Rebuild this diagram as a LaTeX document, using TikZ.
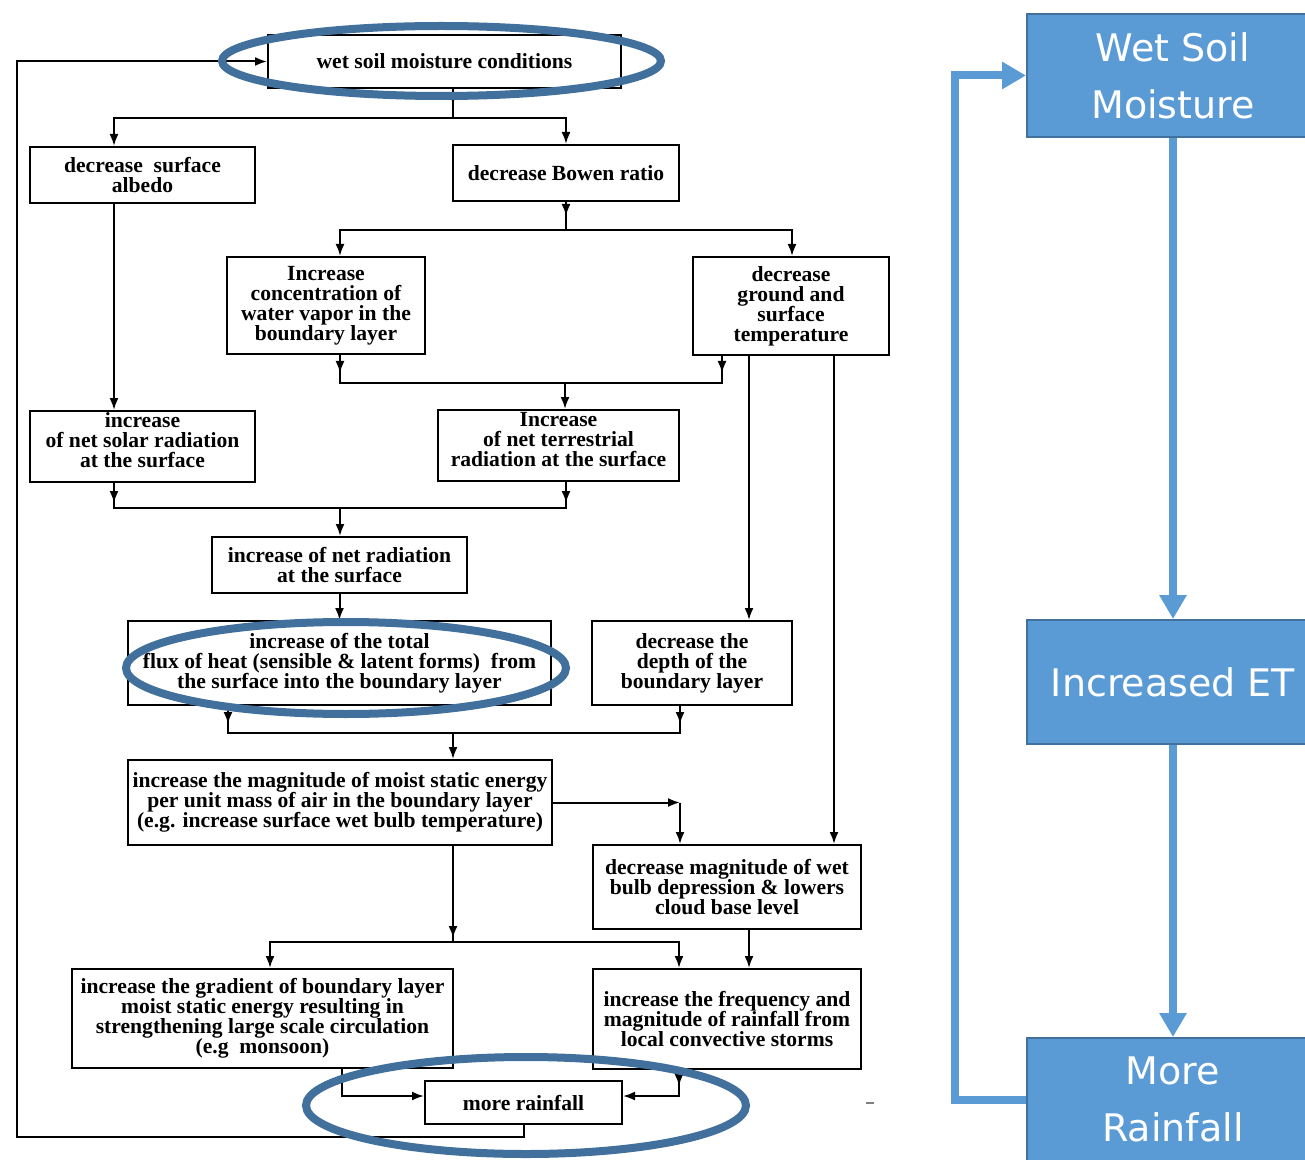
\documentclass[tikz,border=0pt]{standalone}
\usepackage{fontspec}
\setmainfont{Liberation Serif}
\newfontfamily\rfont{DejaVu Sans}
\usetikzlibrary{arrows.meta}
\definecolor{ringc}{RGB}{65,112,156}
\definecolor{pbox}{RGB}{91,155,213}
\definecolor{pedge}{RGB}{65,113,156}
\tikzset{
 sz/.style 2 args={minimum width=#1*0.5pt, minimum height=#2*0.5pt},
 fbox/.style={draw=black, line width=1pt, fill=white, align=center, inner sep=1pt, font=\fontsize{10.8}{10}\selectfont\bfseries},
 ln/.style={line width=1pt},
 arr/.style={line width=1pt,-{Latex[length=6pt,width=4.5pt]}},
 ringst/.style={draw=ringc,line width=4pt},
 bb/.style={fill=pbox,draw=pedge,line width=1pt,text=white,align=center,font=\rfont\fontsize{19}{28.5}\selectfont},
 barr/.style={draw=pbox,line width=4pt,-{Triangle[width=13pt,length=12pt]}}
}
\begin{document}
\begin{tikzpicture}[x=0.5pt,y=-0.5pt]
\useasboundingbox (0,0) rectangle (1305,1160);
\clip (0,0) rectangle (1305,1160);
\fill[white] (0,0) rectangle (1305,1160);

% left flow chart boxes
\node[fbox,sz={353}{53}] (wet) at (444.5,61.5) {wet soil moisture conditions};
\node[fbox,sz={225}{56}] (alb) at (142.5,175) {decrease\ \ surface\\albedo};
\node[fbox,sz={226}{56}] (bow) at (566,173) {decrease Bowen ratio};
\node[fbox,sz={198}{97}] (conc) at (326,305.5) {Increase\\concentration of\\water vapor in the\\boundary layer};
\node[fbox,sz={196}{98}] (gt) at (791,306) {decrease\\ground and\\surface\\temperature};
\node[fbox,sz={225}{71},text depth=6pt] (sol) at (142.5,446.5) {increase\\of net solar radiation\\at the surface};
\node[fbox,sz={241}{71},text depth=6pt] (ter) at (558.5,445.5) {Increase\\of net terrestrial\\radiation at the surface};
\node[fbox,sz={255}{56}] (nr) at (339.5,565) {increase of net radiation\\at the surface};
\node[fbox,sz={423}{84}] (flux) at (339.5,663) {increase of the total\\flux of heat (sensible \& latent forms)\ \ from\\the surface into the boundary layer};
\node[fbox,sz={200}{84}] (dep) at (692,663) {decrease the\\depth of the\\boundary layer};
\node[fbox,sz={424}{85}] (mse) at (340,802.5) {increase the magnitude of moist static energy\\per unit mass of air in the boundary layer\\(e.g. increase surface wet bulb temperature)};
\node[fbox,sz={268}{84}] (wb) at (727,887) {decrease magnitude of wet\\bulb depression \& lowers\\cloud base level};
\node[fbox,sz={381}{99}] (grad) at (262.5,1018.5) {increase the gradient of boundary layer\\moist static energy resulting in\\strengthening large scale circulation\\(e.g\ \ monsoon)};
\node[fbox,sz={268}{100}] (freq) at (727,1019) {increase the frequency and\\magnitude of rainfall from\\local convective storms};
\node[fbox,sz={197}{43}] (rain) at (523.5,1102.5) {more rainfall};

% junctions
\coordinate (j1) at (453,118);
\coordinate (j2) at (566,230);
\coordinate (j3) at (565,383);
\coordinate (j4) at (340,508);
\coordinate (j5) at (453,733);
\coordinate (j6) at (453,942);
\coordinate (k1) at (680,802.5);
\coordinate (L1) at (17,1137);
\coordinate (g1) at ([xshift=-21pt]gt.south);
\coordinate (g2) at ([xshift=21.5pt]gt.south);
\coordinate (c1) at ([xshift=7pt]conc.south);
\coordinate (g0) at ([xshift=-34.5pt]gt.south);
\coordinate (s1) at ([xshift=-14.25pt]sol.south);
\coordinate (t1) at ([xshift=3.75pt]ter.south);
\coordinate (f1) at ([xshift=-55.75pt]flux.south);
\coordinate (d1) at ([xshift=-6pt]dep.south);
\coordinate (q1) at ([xshift=-24pt]freq.south);

% connectors
\draw[ln] (wet.south -| j1) -- (j1);
\draw[arr] (wet.south -| j1) -- ++(0,16);
\draw[arr] (j1) -| ([xshift=-14.25pt]alb.north);
\draw[arr] (j1) -| (bow.north);
\draw[arr] ([xshift=-14.25pt]alb.south) -- ([xshift=-14.25pt]sol.north);
\draw[ln] (bow.south) -- (j2);
\draw[arr] (bow.south) -- ++(0,14);
\draw[arr] (j2) -| ([xshift=7pt]conc.north);
\draw[arr] (j2) -| ([xshift=0.5pt]gt.north);
\draw[ln] (c1) |- (j3);
\draw[ln] (g0) |- (j3);
\draw[arr] (c1) -- ++(0,18);
\draw[arr] (g0) -- ++(0,17);
\draw[arr] (j3) -- (ter.north -| j3);
\draw[arr] (g1) -- (g1 |- dep.north);
\draw[arr] (g2) -- (g2 |- wb.north);
\draw[ln] (s1) |- (j4);
\draw[ln] (t1) |- (j4);
\draw[arr] (s1) -- ++(0,20);
\draw[arr] (t1) -- ++(0,21);
\draw[arr] (j4) -- (nr.north -| j4);
\draw[arr] (nr.south) -- (flux.north);
\draw[ln] (f1) |- (j5);
\draw[ln] (d1) |- (j5);
\draw[arr] (f1) -- ++(0,18);
\draw[arr] (d1) -- ++(0,18);
\draw[arr] (j5) -- (mse.north -| j5);
\draw[arr] (mse.east) -- (k1);
\draw[arr] (k1) -- (k1 |- wb.north);
\draw[ln] (mse.south -| j6) -- (j6);
\draw[arr] (mse.south -| j6) -- ++(0,92);
\draw[arr] (j6) -| ([xshift=3.75pt]grad.north);
\draw[arr] (j6) -| ([xshift=-24pt]freq.north);
\draw[arr] ([xshift=11pt]wb.south) -- ([xshift=11pt]freq.north);
\draw[arr] ([xshift=39.75pt]grad.south) |- ([yshift=3.25pt]rain.west);
\draw[arr] (q1) |- ([yshift=3.25pt]rain.east);
\draw[arr] (q1) -- ++(0,16);
\draw[arr] (rain.south) |- (L1) |- (wet.west);
\draw[line width=1pt,gray] (866,1103) -- (874,1103);

% highlight rings
\draw[ringst] (441.5,61) ellipse [x radius=109.75pt, y radius=17.5pt];
\draw[ringst] (346,668) ellipse [x radius=110pt, y radius=23pt];
\draw[ringst] (526,1105.5) ellipse [x radius=110pt, y radius=24.25pt];

% right simplified loop
\node[bb,sz={292}{123}] (R1) at (1173,75.5) {Wet Soil\\Moisture};
\node[bb,sz={292}{124}] (R2) at (1173,682) {Increased ET};
\node[bb,sz={292}{123}] (R3) at (1173,1099.5) {More\\Rainfall};
\coordinate (L2) at (955,1099.5);
\draw[barr] (R1.south) -- (R2.north);
\draw[barr] (R2.south) -- (R3.north);
\draw[barr] (R3.west) -- (L2) |- (R1.west);
\end{tikzpicture}
\end{document}
